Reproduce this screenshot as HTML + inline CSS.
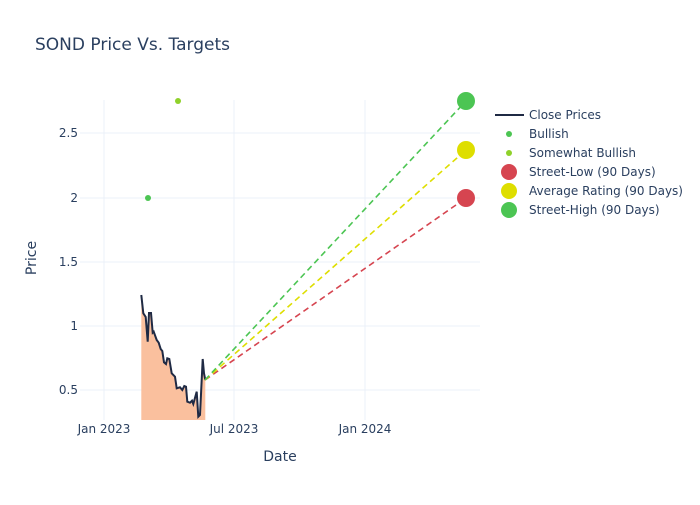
<!DOCTYPE html>
<html><head><style>body{margin:0;background:#fff}svg{font-family:"DejaVu Sans","Liberation Sans",sans-serif}</style></head><body>
<svg width="700" height="500" xmlns="http://www.w3.org/2000/svg">
<rect width="700" height="500" fill="#fff"/>
<text x="35" y="50" font-size="17" fill="#2a3f5f">SOND Price Vs. Targets</text>
<g stroke="#ebf0f8" stroke-width="1">
<line x1="104" y1="100" x2="104" y2="420"/><line x1="234" y1="100" x2="234" y2="420"/><line x1="365" y1="100" x2="365" y2="420"/>
<line x1="80" y1="133" x2="480" y2="133"/><line x1="80" y1="198" x2="480" y2="198"/><line x1="80" y1="262" x2="480" y2="262"/><line x1="80" y1="326" x2="480" y2="326"/><line x1="80" y1="390" x2="480" y2="390"/>
</g>
<g font-size="12" fill="#2a3f5f" text-anchor="end">
<text x="78" y="137">2.5</text><text x="78" y="202">2</text><text x="78" y="266">1.5</text><text x="78" y="330">1</text><text x="78" y="394">0.5</text>
</g>
<g font-size="12" fill="#2a3f5f" text-anchor="middle">
<text x="104" y="433">Jan 2023</text><text x="234" y="433">Jul 2023</text><text x="365" y="433">Jan 2024</text>
</g>
<text x="280" y="461" font-size="14" fill="#2a3f5f" text-anchor="middle">Date</text>
<text x="36" y="258" font-size="14" fill="#2a3f5f" text-anchor="middle" transform="rotate(-90 36 258)">Price</text>
<polygon fill="#fac09e" points="141.3,420 141.3,295 143.3,313.3 145.7,317 147.7,341.7 149,313 151,313 152.7,332.7 153.7,331.7 156.7,340 158.7,342.7 160.7,349 162.3,351 164,362.3 166,364 167.3,358.3 169.3,359 171.7,373.3 175,376.7 176.7,388.3 180,387.3 182.3,390 184.3,386 186,386.7 187.3,401.7 190,402.7 192,400.7 193.3,404 196.7,391.7 198.3,416.7 200,415 202.7,359 204,373.3 205.3,380 205.3,420"/>
<polyline fill="none" stroke="#1f2a44" stroke-width="2" points="141.3,295 143.3,313.3 145.7,317 147.7,341.7 149,313 151,313 152.7,332.7 153.7,331.7 156.7,340 158.7,342.7 160.7,349 162.3,351 164,362.3 166,364 167.3,358.3 169.3,359 171.7,373.3 175,376.7 176.7,388.3 180,387.3 182.3,390 184.3,386 186,386.7 187.3,401.7 190,402.7 192,400.7 193.3,404 196.7,391.7 198.3,416.7 200,415 202.7,359 204,373.3 205.3,380"/>
<g stroke-width="1.6" stroke-dasharray="6,4" fill="none">
<line x1="205" y1="380" x2="466" y2="198" stroke="#d64550"/>
<line x1="205" y1="380" x2="466" y2="150" stroke="#dede00"/>
<line x1="205" y1="380" x2="466" y2="101" stroke="#4cc553"/>
</g>
<circle cx="466" cy="198" r="9" fill="#d64550"/>
<circle cx="466" cy="150" r="9" fill="#dede00"/>
<circle cx="466" cy="101" r="9" fill="#4cc553"/>
<circle cx="148" cy="198" r="3" fill="#4cc553"/>
<circle cx="178" cy="101" r="3" fill="#8fd12a"/>
<g font-size="12" fill="#2a3f5f">
<line x1="495" y1="115" x2="524" y2="115" stroke="#1f2a44" stroke-width="2"/><text x="529" y="119">Close Prices</text>
<circle cx="509" cy="134" r="3" fill="#4cc553"/><text x="529" y="138">Bullish</text>
<circle cx="509" cy="153" r="3" fill="#8fd12a"/><text x="529" y="157">Somewhat Bullish</text>
<circle cx="509" cy="172" r="8" fill="#d64550"/><text x="529" y="176">Street-Low (90 Days)</text>
<circle cx="509" cy="191" r="8" fill="#dede00"/><text x="529" y="195">Average Rating (90 Days)</text>
<circle cx="509" cy="210" r="8" fill="#4cc553"/><text x="529" y="214">Street-High (90 Days)</text>
</g>
</svg>
</body></html>
